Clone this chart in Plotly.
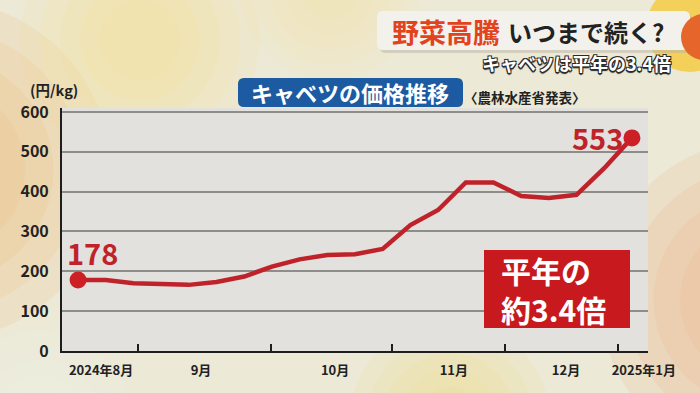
import plotly.graph_objects as go

# ---------------- data ----------------
weeks = list(range(21))  # weekly observations, Aug 2024 -> early Jan 2025
price = [178, 178, 170, 168, 166, 173, 187, 212, 230, 241, 243, 256,
         316, 354, 423, 423, 389, 384, 392, 459, 535]
first_label = "178"
last_label = "553"
month_bounds = [2.15, 6.97, 11.34, 15.42, 19.49]
month_label_pos = [0.83, 4.44, 9.28, 13.57, 17.62, 20.43]
month_labels = ["2024年8月", "9月", "10月", "11月", "12月", "2025年1月"]
y_ticks = [0, 100, 200, 300, 400, 500, 600]

FONT = "Noto Sans CJK JP"
RED = "#c0222a"

# ---------------- geometry helpers (pixel -> paper) ----------------
W, H = 700, 393
L, R, T, B = 62, 648, 108, 351
PW, PH = R - L, B - T


def px(x):
    return (x - L) / PW


def py(y):
    return (B - y) / PH


def rrect(x0, y0, x1, y1, r):
    """rounded rectangle path in paper coords from pixel coords"""
    pts = [
        f"M {px(x0 + r)} {py(y0)}",
        f"L {px(x1 - r)} {py(y0)}",
        f"Q {px(x1)} {py(y0)} {px(x1)} {py(y0 + r)}",
        f"L {px(x1)} {py(y1 - r)}",
        f"Q {px(x1)} {py(y1)} {px(x1 - r)} {py(y1)}",
        f"L {px(x0 + r)} {py(y1)}",
        f"Q {px(x0)} {py(y1)} {px(x0)} {py(y1 - r)}",
        f"L {px(x0)} {py(y0 + r)}",
        f"Q {px(x0)} {py(y0)} {px(x0 + r)} {py(y0)}",
        "Z",
    ]
    return " ".join(pts)


def circle(cx, cy, r, color, opacity, layer="below"):
    return dict(type="circle", xref="paper", yref="paper",
                x0=px(cx - r), x1=px(cx + r), y0=py(cy + r), y1=py(cy - r),
                fillcolor=color, opacity=opacity, line=dict(width=0), layer=layer)


def soft(cx, cy, r, color, opacity, steps=5):
    """soft-edged blob made of concentric translucent discs"""
    out = []
    for i in range(steps):
        rr = r * (1 - i / (steps + 1))
        out.append(circle(cx, cy, rr, color, opacity / steps * 1.6))
    return out


fig = go.Figure()

fig.add_trace(go.Scatter(
    x=weeks, y=price, mode="lines",
    line=dict(color=RED, width=4.5), hoverinfo="skip", showlegend=False,
))
fig.add_trace(go.Scatter(
    x=[weeks[0], weeks[-1]], y=[price[0], price[-1]], mode="markers",
    marker=dict(color="#cc1f26", size=17), hoverinfo="skip", showlegend=False,
))

shapes = []
shapes += soft(-60, 170, 170, "#eebd78", 0.55)
shapes += soft(140, 40, 120, "#f6df8e", 0.40)
shapes += soft(330, -10, 90, "#f5e3a0", 0.35)
shapes += soft(450, 420, 100, "#f4dc8a", 0.45)
shapes += soft(760, 300, 160, "#eeb085", 0.55)
shapes += soft(40, 420, 90, "#eef0e6", 0.5)
shapes.append(circle(690, 28, 44, "#f4c93a", 0.80, "above"))
# plot area background (opaque, under gridlines)
shapes.append(dict(type="rect", xref="paper", yref="paper", x0=0, x1=1, y0=0, y1=1,
                   fillcolor="#e2e1dd", line=dict(width=0), layer="below"))

# title box with shadow
shapes.append(dict(type="path", xref="paper", yref="paper",
                   path=rrect(380, 14, 692, 53, 6), fillcolor="#b9b4a3",
                   opacity=0.5, line=dict(width=0), layer="above"))
shapes.append(dict(type="path", xref="paper", yref="paper",
                   path=rrect(377, 11, 690, 50, 6), fillcolor="#f2f1ec",
                   line=dict(width=0), layer="above"))
shapes.append(circle(704, 37, 23, "#e5652b", 1.0, "above"))
# blue title box
shapes.append(dict(type="path", xref="paper", yref="paper",
                   path=rrect(238, 78, 463, 107, 6), fillcolor="#1c5aa2",
                   line=dict(width=0), layer="above"))
# red callout box
shapes.append(dict(type="rect", xref="paper", yref="paper",
                   x0=px(484), x1=px(630), y0=py(328), y1=py(250),
                   fillcolor="#c8191e", line=dict(width=0), layer="above"))

outline = ("-1px -1px 0 #2a2a2a, 1px -1px 0 #2a2a2a, -1px 1px 0 #2a2a2a, "
           "1px 1px 0 #2a2a2a, 0 2px 1px #2a2a2a")

annotations = [
    dict(text="(円/kg)", x=px(54), y=py(90), xref="paper", yref="paper",
         showarrow=False, xanchor="center", yanchor="middle",
         font=dict(family=FONT, size=14.5, color="#222", weight="bold")),
    dict(text="キャベツの価格推移", x=px(350), y=py(92), xref="paper", yref="paper",
         showarrow=False, xanchor="center", yanchor="middle",
         font=dict(family=FONT, size=22, color="white", weight="bold")),
    dict(text="〈農林水産省発表〉", x=px(462), y=py(97), xref="paper", yref="paper",
         showarrow=False, xanchor="left", yanchor="middle",
         font=dict(family=FONT, size=13.5, color="#222", weight="bold")),
    dict(text="野菜高騰", x=px(390), y=py(31), xref="paper", yref="paper",
         showarrow=False, xanchor="left", yanchor="middle",
         font=dict(family=FONT, size=27, color="#e2421c", weight="bold")),
    dict(text="いつまで続く?", x=px(506), y=py(31), xref="paper", yref="paper",
         showarrow=False, xanchor="left", yanchor="middle",
         font=dict(family=FONT, size=24, color="#222", weight="bold")),
    dict(text="キャベツは平年の3.4倍", x=px(673), y=py(63), xref="paper", yref="paper",
         showarrow=False, xanchor="right", yanchor="middle",
         font=dict(family=FONT, size=18, color="white", weight="bold", shadow=outline)),
    dict(text="平年の<br>約3.4倍", x=px(499), y=py(289), xref="paper", yref="paper",
         showarrow=False, xanchor="left", yanchor="middle", align="left",
         font=dict(family=FONT, size=30, color="white", weight="bold")),
    # value labels
    dict(text=first_label, x=weeks[0], y=price[0], xref="x", yref="y",
         showarrow=False, xanchor="left", yanchor="middle", xshift=-13, yshift=28,
         font=dict(family=FONT, size=29, color=RED, weight="bold")),
    dict(text=last_label, x=weeks[-1], y=price[-1], xref="x", yref="y",
         showarrow=False, xanchor="right", yanchor="middle", xshift=-7, yshift=1,
         font=dict(family=FONT, size=29, color=RED, weight="bold")),
]

fig.update_layout(
    width=W, height=H, autosize=False,
    margin=dict(l=L, r=W - R, t=T, b=H - B, pad=0),
    paper_bgcolor="#ece9d7",
    plot_bgcolor="rgba(0,0,0,0)",
    shapes=shapes,
    annotations=annotations,
    showlegend=False,
)

fig.update_xaxes(
    range=[-0.58, 20.58], showgrid=False, zeroline=False,
    showline=True, linecolor="#1e1e1e", linewidth=2,
    tickmode="array", tickvals=month_label_pos, ticktext=month_labels,
    ticks="", ticklabelstandoff=6,
    tickfont=dict(family=FONT, size=13, color="#222", weight="bold"),
    minor=dict(tickmode="array", tickvals=month_bounds, ticks="inside",
               ticklen=7, tickwidth=2, tickcolor="#1e1e1e", showgrid=False),
    fixedrange=True,
)
fig.update_yaxes(
    range=[0, 610], tickmode="array", tickvals=y_ticks,
    showgrid=True, gridcolor="#8d8d8a", gridwidth=2, zeroline=False,
    showline=True, linecolor="#1e1e1e", linewidth=2,
    ticks="", ticklabelstandoff=8,
    tickfont=dict(family=FONT, size=16, color="#222", weight="bold"),
    fixedrange=True,
)

fig.write_html(
    "out.html",
    config={"displayModeBar": False},
    post_script="document.body.style.margin='0px';document.body.style.overflow='hidden';",
)
